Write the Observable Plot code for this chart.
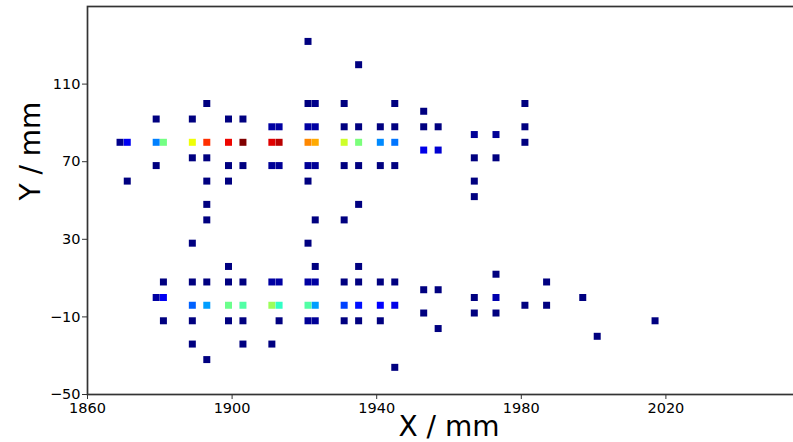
<!DOCTYPE html>
<html><head><meta charset="utf-8">
<script src="https://cdn.jsdelivr.net/npm/d3@7"></script>
<script src="https://cdn.jsdelivr.net/npm/@observablehq/plot@0.6"></script>
<style>html,body{margin:0;padding:0;background:#fff;overflow:hidden}</style>
</head><body><div id="chart"></div>
<script>
// Points grouped by row (Y / mm); xYear, yMm and intensity are parallel arrays
const xYear = [
  1921,
  1935,
  1893,1921,1923,1931,1945,1981,
  1953,
  1879,1889,1899,1903,
  1911,1913,1921,1923,1931,1935,1941,1945,1953,1957,1981,
  1967,1973,
  1869,1871,1879,1881,1889,1893,1899,1903,1911,1913,1921,1923,1931,1935,1941,1945,1981,
  1953,1957,
  1889,1893,1967,1973,
  1879,1899,1903,1911,1913,1921,1923,1931,1935,1941,1945,
  1871,1893,1899,1921,1967,
  1967,
  1893,1935,
  1893,1923,1931,
  1889,1921,
  1899,1923,1935,
  1973,
  1881,1889,1893,1899,1903,1911,1913,1921,1923,1931,1935,1941,1945,1987,
  1953,1957,
  1879,1881,1967,1973,1997,
  1889,1893,1899,1903,1911,1913,1921,1923,1931,1935,1941,1945,1981,1987,
  1953,1967,1973,
  1881,1889,1899,1903,1913,1921,1923,1931,1935,1941,2017,
  1957,
  2001,
  1889,1903,1911,
  1893,
  1945
];
const yMm = [
  132,
  120,
  100,100,100,100,100,100,
  96,
  92,92,92,92,
  88,88,88,88,88,88,88,88,88,88,88,
  84,84,
  80,80,80,80,80,80,80,80,80,80,80,80,80,80,80,80,80,
  76,76,
  72,72,72,72,
  68,68,68,68,68,68,68,68,68,68,68,
  60,60,60,60,60,
  52,
  48,48,
  40,40,40,
  28,28,
  16,16,16,
  12,
  8,8,8,8,8,8,8,8,8,8,8,8,8,8,
  4,4,
  0,0,0,0,0,
  -4,-4,-4,-4,-4,-4,-4,-4,-4,-4,-4,-4,-4,-4,
  -8,-8,-8,
  -12,-12,-12,-12,-12,-12,-12,-12,-12,-12,-12,
  -16,
  -20,
  -24,-24,-24,
  -32,
  -36
];
const intensity = [
  0,
  0,
  0,0,0.01,0,0,0,
  0,
  0,0,0,0,
  0.03,0.03,0.03,0.03,0,0,0,0,0,0,0,
  0.02,0.02,
  0.01,0.10,0.25,0.49,0.64,0.86,0.905,1.0,0.916,0.95,0.766,0.73,0.60,0.50,0.26,0.24,0,
  0.09,0.07,
  0,0,0,0,
  0,0,0,0.02,0.02,0.02,0.02,0,0,0,0,
  0,0,0,0,0,
  0,
  0,0,
  0,0,0,
  0,0,
  0,0,0,
  0,
  0,0,0,0,0,0.03,0.03,0.03,0.03,0,0,0,0,0,
  0,0,
  0.03,0.10,0,0.04,0,
  0.22,0.28,0.48,0.45,0.54,0.41,0.45,0.28,0.19,0.14,0.12,0.09,0,0,
  0,0,0,
  0,0,0,0,0,0.02,0.02,0,0,0,0,
  0,
  0,
  0,0,0,
  0,
  0
];
const xTicks = [1860, 1900, 1940, 1980, 2020];
const yTicks = [-50, -10, 30, 70, 110];
const xLabel = "X / mm";
const yLabel = "Y / mm";

// matplotlib "jet" colormap
function seg(points, t) {
  for (let i = 1; i < points.length; i++) {
    const [x0, v0] = points[i - 1], [x1, v1] = points[i];
    if (t <= x1) return v0 + (v1 - v0) * (t - x0) / (x1 - x0);
  }
  return points[points.length - 1][1];
}
const R = [[0,0],[0.35,0],[0.66,1],[0.89,1],[1,0.5]];
const G = [[0,0],[0.125,0],[0.375,1],[0.64,1],[0.91,0],[1,0]];
const B = [[0,0.5],[0.11,1],[0.34,1],[0.65,0],[1,0]];
function jet(t) {
  t = Math.max(0, Math.min(1, t));
  const c = v => Math.round(255 * v);
  return `rgb(${c(seg(R,t))},${c(seg(G,t))},${c(seg(B,t))})`;
}

const data = xYear.map((x, i) => ({x, y: yMm[i], v: intensity[i]}));

const chart = Plot.plot({
  width: 793,
  height: 442,
  marginTop: 6,
  marginBottom: 48,
  marginLeft: 87,
  marginRight: -17,
  style: {fontFamily: "DejaVu Sans", background: "white", color: "#000"},
  x: {domain: [1860, 2060]},
  y: {domain: [-50, 150]},
  color: {type: "linear", domain: [0, 1], interpolate: jet},
  marks: [
    Plot.dot(data, {x: "x", y: "y", fill: "v", symbol: "square", r: 3.95, stroke: null}),
    Plot.frame({stroke: "#333", strokeWidth: 1.7}),
    Plot.axisX({ticks: xTicks, tickFormat: d => String(d), tickSize: 5, tickPadding: 3, fontSize: 14.5, label: null, stroke: "#333"}),
    Plot.axisY({ticks: yTicks, tickFormat: d => d < 0 ? "\u2212" + Math.abs(d) : String(d), tickSize: 5, tickPadding: 2, fontSize: 14.5, label: null, stroke: "#333"}),
    Plot.text([xLabel], {frameAnchor: "bottom", dy: 41, lineAnchor: "bottom", fontSize: 28}),
    Plot.text([yLabel], {frameAnchor: "left", dx: -56, rotate: -90, fontSize: 28})
  ]
});
document.getElementById("chart").appendChild(chart);
</script>
</body></html>
